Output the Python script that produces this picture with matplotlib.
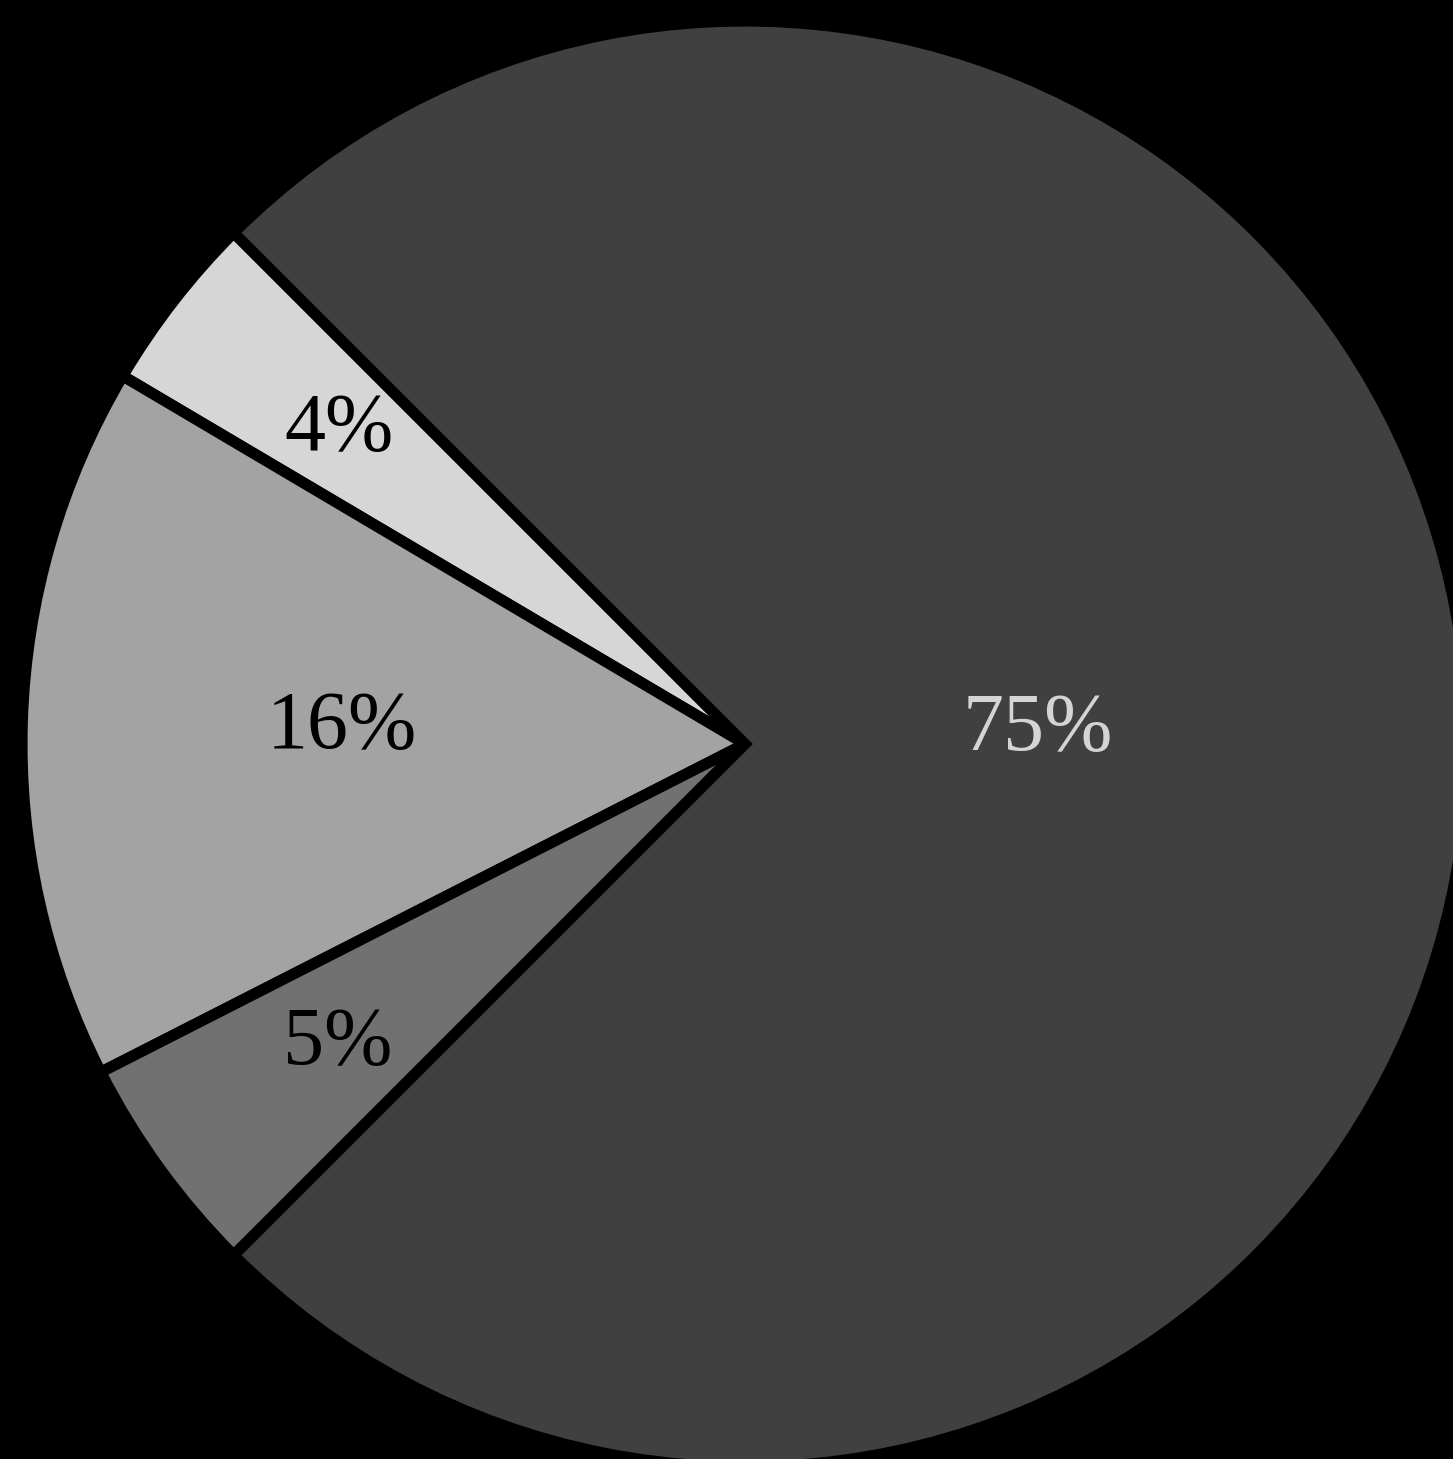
import matplotlib.pyplot as plt

# slices, counterclockwise starting from upper left
porcentajes = [4, 16, 5, 75]
etiquetas = ['4%', '16%', '5%', '75%']
colores = ['#d6d6d6', '#a3a3a3', '#717171', '#404040']
color_texto = ['black', 'black', 'black', '#d4d4d4']
# label offsets from the centre, as fraction of the radius
pos_etiqueta = [(-0.565, 0.447), (-0.561, 0.031), (-0.567, -0.408), (0.408, 0.029)]

W, H = 1453, 1459
fig = plt.figure(figsize=(W / 100, H / 100), dpi=100, facecolor='black')
ax = fig.add_axes([0, 0, 1, 1])
ax.set_facecolor('black')

cx, cy, r = 745, H - 744, 718
wedges, _ = ax.pie(porcentajes, colors=colores, startangle=135, counterclock=True,
                   center=(cx, cy), radius=r + 5,
                   wedgeprops=dict(edgecolor='black', linewidth=8))

for txt, col, (fx, fy) in zip(etiquetas, color_texto, pos_etiqueta):
    ax.text(cx + fx * r, cy + fy * r - 7, txt,
            ha='center', va='center', color=col, fontsize=59,
            family='Liberation Serif')

ax.set_xlim(0, W)
ax.set_ylim(0, H)
ax.set_aspect('equal', adjustable='box')
ax.axis('off')

fig.savefig('out.png', dpi=100, facecolor='black')
